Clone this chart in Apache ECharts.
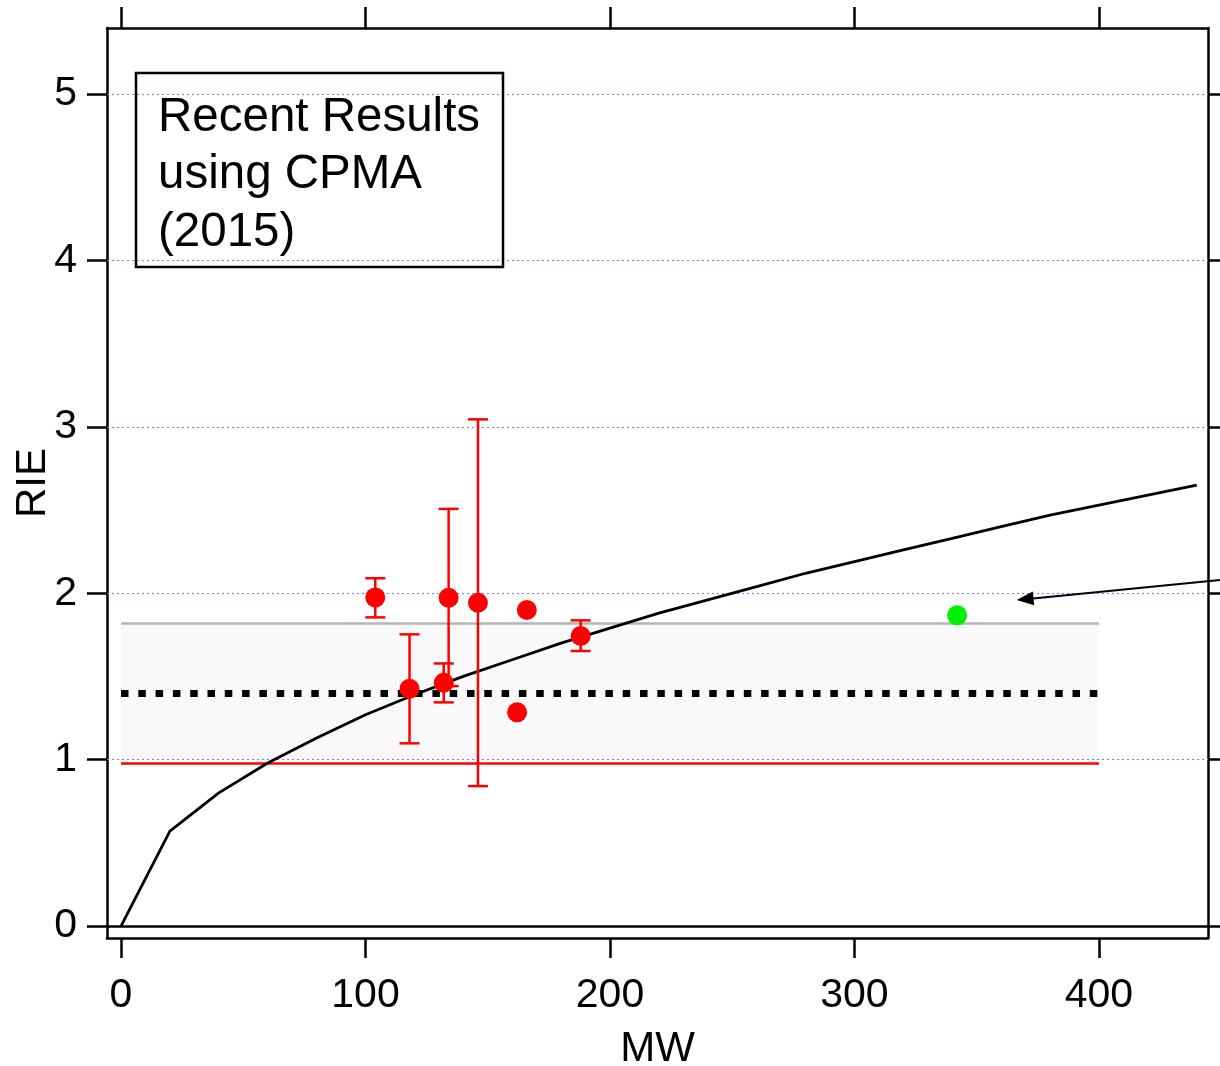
<!DOCTYPE html>
<html>
<head>
<meta charset="utf-8">
<script src="https://cdn.jsdelivr.net/npm/echarts@6/dist/echarts.min.js"></script>
<style>html,body{margin:0;padding:0;background:#fff}#c{width:1220px;height:1066px}</style>
</head>
<body>
<div id="c"></div>
<script>
// ---- data ----
const xTicks = [0, 100, 200, 300, 400];
const yTicks = [0, 1, 2, 3, 4, 5];
const gridVals = [1, 2, 3, 4, 5];
const curveX = [0, 20, 40, 60, 80, 100, 120, 140, 160, 180, 200, 220, 240, 260, 280, 300, 320, 340, 360, 380, 400, 420, 440];
const curveY = [0, 0.57, 0.80, 0.98, 1.13, 1.27, 1.39, 1.50, 1.60, 1.70, 1.79, 1.88, 1.96, 2.04, 2.12, 2.19, 2.26, 2.33, 2.40, 2.47, 2.53, 2.59, 2.65];
const ptsX = [104, 118, 132, 134, 146, 166, 162, 188];
const ptsY = [1.975, 1.426, 1.462, 1.973, 1.943, 1.899, 1.284, 1.743];
const errLow = [1.855, 1.098, 1.344, 1.442, 0.841, null, null, 1.653];
const errHigh = [2.090, 1.753, 1.578, 2.507, 3.045, null, null, 1.837];
const greenX = [342];
const greenY = [1.867];
const bandX = [0, 400];
const bandLow = 0.98;
const bandHigh = 1.82;
const bandMean = 1.40;
const arrowFrom = [449.5, 2.079];
const arrowTo = [366.3, 1.959];
const boxLines = ['Recent Results', 'using CPMA', '(2015)'];

const FONT = 'Liberation Sans, Arial, Helvetica, sans-serif';
const chart = echarts.init(document.getElementById('c'), null, {renderer: 'canvas'});

const errData = [];
ptsX.forEach((x, i) => { if (errLow[i] != null) errData.push([x, errLow[i], errHigh[i]]); });

const AW = 2.5;
const axisCommon = {
  type: 'value',
  splitLine: {show: false},
  axisLine: {show: true, onZero: false, lineStyle: {color: '#000', width: AW}},
};

const option = {
  animation: false,
  backgroundColor: '#fff',
  grid: {left: 107, right: 12, top: 28, bottom: 128, containLabel: false, outerBoundsMode: 'none'},
  xAxis: [
    Object.assign({}, axisCommon, {
      position: 'bottom', min: -5.73, max: 444.6,
      axisTick: {show: true, inside: false, length: 20, customValues: xTicks, lineStyle: {color: '#000', width: AW}},
      axisLabel: {show: true, customValues: xTicks, margin: 37, fontSize: 41, color: '#000', fontFamily: FONT},
      name: 'MW', nameLocation: 'middle', nameGap: 90, nameMoveOverlap: false,
      nameTextStyle: {fontSize: 42, color: '#000', fontFamily: FONT}
    }),
    Object.assign({}, axisCommon, {
      position: 'top', min: -5.73, max: 444.6,
      axisTick: {show: true, inside: false, length: 21, customValues: xTicks, lineStyle: {color: '#000', width: AW}},
      axisLabel: {show: false}
    })
  ],
  yAxis: [
    Object.assign({}, axisCommon, {
      position: 'left', min: -0.072, max: 5.397,
      axisTick: {show: true, inside: false, length: 20, customValues: yTicks, lineStyle: {color: '#000', width: AW}},
      axisLabel: {show: true, customValues: yTicks, margin: 30, fontSize: 41, color: '#000', fontFamily: FONT},
      name: 'RIE', nameLocation: 'middle', nameGap: 53, nameMoveOverlap: false,
      nameTextStyle: {fontSize: 42, color: '#000', fontFamily: FONT}
    }),
    Object.assign({}, axisCommon, {
      position: 'right', min: -0.072, max: 5.397,
      axisTick: {show: true, inside: false, length: 20, customValues: yTicks, lineStyle: {color: '#000', width: AW}},
      axisLabel: {show: false}
    })
  ],
  graphic: [
    {type: 'rect', z: 50, shape: {x: 136, y: 73, width: 367, height: 194},
     style: {fill: 'none', stroke: '#000', lineWidth: 2.5}},
    {type: 'text', z: 51, x: 158, y: 118, style: {text: boxLines[0], font: '47.5px ' + FONT, fill: '#000', verticalAlign: 'middle'}},
    {type: 'text', z: 51, x: 158, y: 175, style: {text: boxLines[1], font: '47.5px ' + FONT, fill: '#000', verticalAlign: 'middle'}},
    {type: 'text', z: 51, x: 158, y: 233, style: {text: boxLines[2], font: '47.5px ' + FONT, fill: '#000', verticalAlign: 'middle'}}
  ],
  series: [
    { // dotted blue gridlines
      type: 'line', data: [], z: 1, silent: true,
      markLine: {silent: true, symbol: 'none', label: {show: false}, animation: false,
        lineStyle: {color: '#7878ff', width: 1.2, type: [2, 3], opacity: 1},
        data: gridVals.map(v => ({yAxis: v}))}
    },
    { // band fill
      type: 'line', data: [], z: 2, silent: true,
      markArea: {silent: true, itemStyle: {color: '#f9f9f9', opacity: 1},
        data: [[{xAxis: bandX[0], yAxis: bandLow}, {xAxis: bandX[1], yAxis: bandHigh}]]}
    },
    { // band lines + zero line
      type: 'line', data: [], z: 3, silent: true,
      markLine: {silent: true, symbol: 'none', label: {show: false}, animation: false,
        data: [
          [{coord: [bandX[0], bandHigh], lineStyle: {color: '#b4b4b4', width: 2.5, type: 'solid', opacity: 1}}, {coord: [bandX[1], bandHigh]}],
          [{coord: [bandX[0], bandLow], lineStyle: {color: '#ff0000', width: 2.5, type: 'solid', opacity: 1}}, {coord: [bandX[1], bandLow]}],
          [{coord: [bandX[0], bandMean], lineStyle: {color: '#000', width: 7, type: [7.5, 9.8], cap: 'butt', opacity: 1}}, {coord: [bandX[1], bandMean]}],
          {yAxis: 0, lineStyle: {color: '#000', width: AW, type: 'solid', opacity: 1}}
        ]}
    },
    { // model curve
      type: 'line', z: 5, symbol: 'none', silent: true,
      data: curveX.map((x, i) => [x, curveY[i]]),
      lineStyle: {color: '#000', width: 2.8}
    },
    { // error bars
      type: 'custom', z: 6, silent: true, clip: false,
      data: errData,
      encode: {x: 0, y: [1, 2]},
      renderItem: function (params, api) {
        const x = api.value(0);
        const lo = api.coord([x, api.value(1)]);
        const hi = api.coord([x, api.value(2)]);
        const w = 10;
        const st = {stroke: '#ff0000', lineWidth: 2.5};
        return {type: 'group', children: [
          {type: 'line', shape: {x1: lo[0], y1: lo[1], x2: hi[0], y2: hi[1]}, style: st},
          {type: 'line', shape: {x1: lo[0] - w, y1: lo[1], x2: lo[0] + w, y2: lo[1]}, style: st},
          {type: 'line', shape: {x1: hi[0] - w, y1: hi[1], x2: hi[0] + w, y2: hi[1]}, style: st}
        ]};
      }
    },
    { // red points
      type: 'scatter', z: 7, symbol: 'circle', symbolSize: 20, silent: true,
      itemStyle: {color: '#ff0000', opacity: 1},
      data: ptsX.map((x, i) => [x, ptsY[i]])
    },
    { // green point
      type: 'scatter', z: 7, symbol: 'circle', symbolSize: 20, silent: true,
      itemStyle: {color: '#00f000', opacity: 1},
      data: greenX.map((x, i) => [x, greenY[i]])
    },
    { // arrow
      type: 'custom', z: 8, silent: true, clip: false,
      data: [[arrowFrom[0], arrowFrom[1], arrowTo[0], arrowTo[1]]],
      encode: {x: [0, 2], y: [1, 3]},
      renderItem: function (params, api) {
        const a = api.coord([api.value(0), api.value(1)]);
        const b = api.coord([api.value(2), api.value(3)]);
        const dx = b[0] - a[0], dy = b[1] - a[1];
        const len = Math.sqrt(dx * dx + dy * dy);
        const ux = dx / len, uy = dy / len;
        const nx = -uy, ny = ux;
        const L = 17, H = 7;
        const bx = b[0] - ux * L, by = b[1] - uy * L;
        return {type: 'group', children: [
          {type: 'line', shape: {x1: a[0], y1: a[1], x2: bx + ux * 3, y2: by + uy * 3}, style: {stroke: '#000', lineWidth: 2}},
          {type: 'polygon', shape: {points: [[b[0], b[1]], [bx + nx * H, by + ny * H], [bx - nx * H, by - ny * H]]}, style: {fill: '#000'}}
        ]};
      }
    }
  ]
};
chart.setOption(option);
</script>
</body>
</html>
